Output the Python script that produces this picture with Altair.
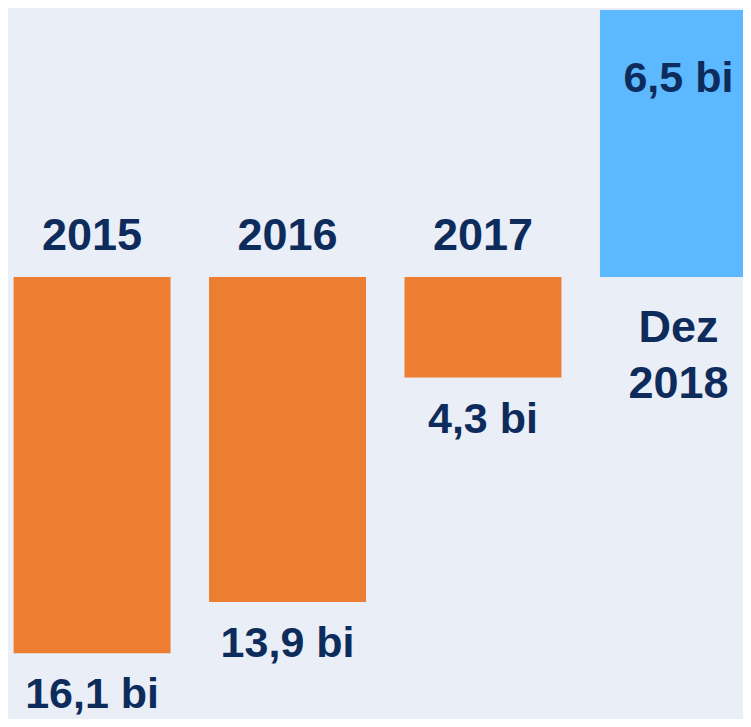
import altair as alt
import pandas as pd

# ---- data ----
categories = ["2015", "2016", "2017", "Dez 2018"]
values = [-16.1, -13.9, -4.3, 6.5]          # R$ bi
axis_labels = ["2015", "2016", "2017", "Dez\n2018"]
kinds = ["hist", "hist", "hist", "proj"]

def fmt(v):
    return f"{abs(v):.1f}".replace(".", ",") + " bi"

df = pd.DataFrame({
    "cat": categories,
    "value": values,
    "vlabel": [fmt(v) for v in values],
    "clabel": axis_labels,
    "kind": kinds,
})

ORANGE = "#ED7D31"
BLUE = "#5CB8FF"
NAVY = "#0D2C5C"
BG = "#E9EEF7"
FONT = "Liberation Sans"

x_enc = alt.X(
    "cat:N",
    scale=alt.Scale(domain=categories, range=[5.6, 748.9], paddingInner=0.197, paddingOuter=0),
    axis=None,
)

y_hist_scale = alt.Scale(domain=[-18.91, 11.51], nice=False, zero=False)
y_proj_scale = alt.Scale(domain=[-10.76, 6.548], nice=False, zero=False)

base = alt.Chart(df).transform_calculate(zero="0")

hist = base.transform_filter(alt.datum.kind == "hist")
proj = base.transform_filter(alt.datum.kind == "proj")

hist_bars = hist.mark_bar(color=ORANGE).encode(
    x=x_enc,
    y=alt.Y("value:Q", scale=y_hist_scale, axis=None),
    y2="zero:Q",
)
hist_vals = hist.mark_text(
    baseline="alphabetic", align="center", dy=55,
    fontSize=43, fontWeight="bold", font=FONT, color=NAVY,
).encode(
    x=x_enc,
    y=alt.Y("value:Q", scale=y_hist_scale, axis=None),
    text="vlabel:N",
)
hist_cats = hist.mark_text(
    baseline="alphabetic", align="center", dy=-27,
    fontSize=45, fontWeight="bold", font=FONT, color=NAVY,
).encode(
    x=x_enc,
    y=alt.Y("zero:Q", scale=y_hist_scale, axis=None),
    text="clabel:N",
)

proj_bar = proj.mark_bar(color=BLUE).encode(
    x=x_enc,
    y=alt.Y("value:Q", scale=y_proj_scale, axis=None),
    y2="zero:Q",
)
proj_val = proj.mark_text(
    baseline="alphabetic", align="center", dy=82,
    fontSize=43, fontWeight="bold", font=FONT, color=NAVY,
).encode(
    x=x_enc,
    y=alt.Y("value:Q", scale=y_proj_scale, axis=None),
    text="vlabel:N",
)
proj_cat = proj.mark_text(
    baseline="alphabetic", align="center", dy=65, lineBreak="\n", lineHeight=56,
    fontSize=45, fontWeight="bold", font=FONT, color=NAVY,
).encode(
    x=x_enc,
    y=alt.Y("zero:Q", scale=y_proj_scale, axis=None),
    text="clabel:N",
)

hist_group = alt.layer(hist_bars, hist_vals, hist_cats)
proj_group = alt.layer(proj_bar, proj_val, proj_cat)

chart = (
    alt.layer(hist_group, proj_group)
    .resolve_scale(y="independent")
    .properties(
        width=735, height=711, padding=0, background=BG,
        autosize=alt.AutoSizeParams(type="fit", contains="padding"),
    )
    .configure_view(strokeWidth=0)
)

chart.save("out.html", embed_options={"renderer": "svg", "actions": False})
